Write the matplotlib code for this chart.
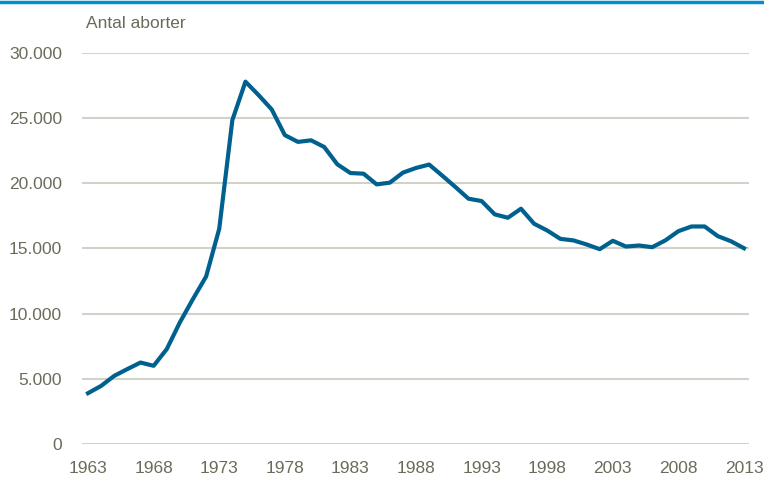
import numpy as np
import matplotlib.pyplot as plt
from matplotlib import font_manager
from matplotlib.ticker import FuncFormatter

# Antal aborter pr. år
years = list(range(1963, 2014))
aborter = [3900, 4460, 5230, 5750, 6250, 6000, 7280, 9330, 11130, 12850,
           16510, 24850, 27800, 26770, 25670, 23700, 23180, 23300, 22790, 21460,
           20790, 20740, 19920, 20050, 20820, 21180, 21440, 20590, 19720, 18820,
           18640, 17620, 17360, 18050, 16900, 16380, 15740, 15620, 15310, 14950,
           15590, 15150, 15230, 15100, 15620, 16330, 16690, 16690, 15950, 15560,
           15020]
x_ticks = list(range(1963, 2014, 5))
y_ticks = [0, 5000, 10000, 15000, 20000, 25000, 30000]

text_color = '#6b6b5b'
grid_color = '#d3d2ca'
line_color = '#00618f'

# smal skrift hvis den findes, ellers Liberation Sans lidt mindre
names = {f.name for f in font_manager.fontManager.ttflist}
if 'Liberation Sans Narrow' in names:
    plt.rcParams['font.family'] = ['Liberation Sans Narrow', 'DejaVu Sans']
    fs = 16
else:
    plt.rcParams['font.family'] = ['Liberation Sans', 'DejaVu Sans']
    fs = 12.5

fig = plt.figure(figsize=(7.64, 4.78), dpi=100)
ax = fig.add_axes([82 / 764, 34 / 478, 667 / 764, 391 / 478])

ax.plot(years, aborter, color=line_color, linewidth=3.0, zorder=3)

ax.set_xlim(1962.54, 2013.38)
ax.set_ylim(0, 30000)
ax.set_xticks(x_ticks)
ax.set_yticks(y_ticks)
ax.yaxis.set_major_formatter(FuncFormatter(lambda v, p: f'{int(v):,}'.replace(',', '.')))

ax.grid(axis='y', color=grid_color, linewidth=1.5, zorder=1)
ax.set_axisbelow(True)
for s in ax.spines.values():
    s.set_visible(False)
ax.tick_params(axis='both', length=0, labelsize=fs, labelcolor=text_color)
ax.tick_params(axis='y', pad=14.4)
ax.tick_params(axis='x', pad=12)
for lab in ax.get_yticklabels() + ax.get_xticklabels():
    lab.set_clip_on(False)

fig.text(86 / 764, 1 - 23 / 478, 'Antal aborter', color=text_color, fontsize=fs,
         ha='left', va='center')

# blå streg øverst
fig.add_artist(plt.Line2D([0, 1], [1 - 1.5 / 478, 1 - 1.5 / 478], color='#0090d0',
                          linewidth=2.5, transform=fig.transFigure))

fig.savefig('out.png', dpi=100)
